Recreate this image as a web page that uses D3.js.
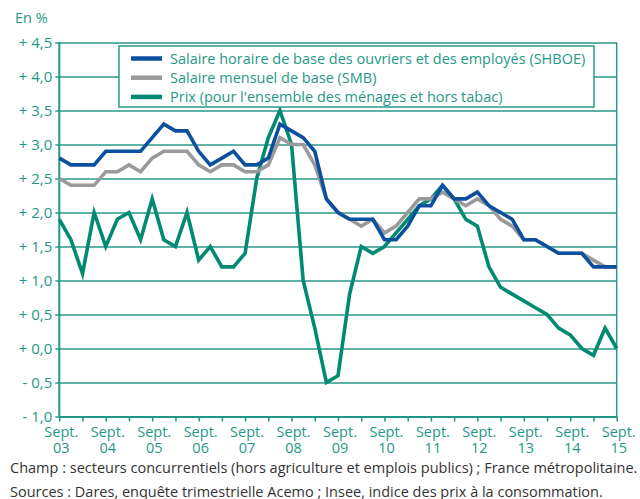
<!DOCTYPE html>
<html>
<head>
<meta charset="utf-8">
<script src="https://cdn.jsdelivr.net/npm/d3@7"></script>
<style>
  body { margin: 0; background: #fff; }
  svg { display: block; font-family: "Open Sans", sans-serif; }
</style>
</head>
<body>
<svg id="graph" width="640" height="499"></svg>
<script>
// Trimestres de sept. 2003 à sept. 2015 (49 points)
const years = ["03", "04", "05", "06", "07", "08", "09", "10", "11", "12", "13", "14", "15"];
const yTicks = [-1, -0.5, 0, 0.5, 1, 1.5, 2, 2.5, 3, 3.5, 4, 4.5];

const shboe = [
  2.8, 2.7, 2.7, 2.7, 2.9, 2.9, 2.9, 2.9, 3.1, 3.3, 3.2, 3.2, 2.9,
  2.7, 2.8, 2.9, 2.7, 2.7, 2.8, 3.3, 3.2, 3.1, 2.9, 2.2, 2.0,
  1.9, 1.9, 1.9, 1.6, 1.6, 1.8, 2.1, 2.1, 2.4, 2.2, 2.2, 2.3,
  2.1, 2.0, 1.9, 1.6, 1.6, 1.5, 1.4, 1.4, 1.4, 1.2, 1.2, 1.2
];
const smb = [
  2.5, 2.4, 2.4, 2.4, 2.6, 2.6, 2.7, 2.6, 2.8, 2.9, 2.9, 2.9, 2.7,
  2.6, 2.7, 2.7, 2.6, 2.6, 2.7, 3.1, 3.0, 3.0, 2.7, 2.2, 2.0,
  1.9, 1.8, 1.9, 1.7, 1.8, 2.0, 2.2, 2.2, 2.3, 2.2, 2.1, 2.2,
  2.1, 1.9, 1.8, 1.6, 1.6, 1.5, 1.4, 1.4, 1.4, 1.3, 1.2, 1.2
];
const prix = [
  1.9, 1.6, 1.1, 2.0, 1.5, 1.9, 2.0, 1.6, 2.2, 1.6, 1.5, 2.0, 1.3,
  1.5, 1.2, 1.2, 1.4, 2.5, 3.1, 3.5, 3.0, 1.0, 0.3, -0.5, -0.4,
  0.8, 1.5, 1.4, 1.5, 1.7, 1.9, 2.1, 2.2, 2.4, 2.2, 1.9, 1.8,
  1.2, 0.9, 0.8, 0.7, 0.6, 0.5, 0.3, 0.2, 0.0, -0.1, 0.3, 0.0
];

const series = [
  { name: "Salaire horaire de base des ouvriers et des employés (SHBOE)", values: shboe, color: "#0b4f9f" },
  { name: "Salaire mensuel de base (SMB)", values: smb, color: "#9a9a9a" },
  { name: "Prix (pour l'ensemble des ménages et hors tabac)", values: prix, color: "#008a72" }
];
// ordre de tracé : prix dessous, puis SMB, puis SHBOE
const drawOrder = [series[2], series[1], series[0]];

const teal = "#1f9986";
const gridColor = "#2a9a88";
const fontSize = "14.5px";

const width = 640, height = 499;
const margin = { top: 42.5, right: 23.3, bottom: 82.5, left: 59.3 };

const svg = d3.select("#graph");

const x = d3.scaleLinear([0, 48], [margin.left, width - margin.right]);
const y = d3.scaleLinear([-1, 4.5], [height - margin.bottom, margin.top]);

const fmt = (v) => (v < 0 ? "- " : "+ ") + d3.format(".1f")(Math.abs(v)).replace(".", ",");

// Grille + axe Y
const gy = svg.append("g")
  .attr("transform", `translate(${margin.left},0)`)
  .call(d3.axisLeft(y).tickValues(yTicks).tickFormat(fmt)
    .tickSize(-(width - margin.left - margin.right)).tickPadding(7));
gy.select(".domain").remove();
gy.selectAll(".tick line").attr("stroke", gridColor).attr("stroke-width", 1.5).attr("x1", -4);
gy.selectAll(".tick text")
  .attr("fill", teal)
  .style("font-size", "15px")
  .style("font-family", "'Open Sans', sans-serif");

// Bord droit
svg.append("line")
  .attr("x1", x(48)).attr("x2", x(48))
  .attr("y1", y(4.5)).attr("y2", y(-1))
  .attr("stroke", gridColor).attr("stroke-width", 1.5);

// Axe X
const gx = svg.append("g")
  .attr("transform", `translate(0,${y(-1)})`)
  .call(d3.axisBottom(x).tickValues(d3.range(0, 49, 2)).tickFormat("").tickSize(5).tickSizeOuter(0));
gx.select(".domain").attr("stroke", teal).attr("stroke-width", 2);
gx.selectAll(".tick line").attr("stroke", teal).attr("stroke-width", 1.5);

const xl = svg.append("g")
  .attr("fill", teal)
  .style("font-size", fontSize)
  .attr("text-anchor", "middle");
xl.selectAll("text.sept")
  .data(years)
  .join("text")
  .attr("class", "sept")
  .attr("x", (d, i) => x(i * 4) + 2)
  .attr("y", y(-1) + 20)
  .text("Sept.");
xl.selectAll("text.year")
  .data(years)
  .join("text")
  .attr("class", "year")
  .attr("x", (d, i) => x(i * 4) + 2)
  .attr("y", y(-1) + 36)
  .text((d) => d);

// Axe Y ligne
svg.append("line")
  .attr("x1", margin.left).attr("x2", margin.left)
  .attr("y1", y(4.5)).attr("y2", y(-1))
  .attr("stroke", teal).attr("stroke-width", 2);

// Courbes
const line = d3.line().x((d, i) => x(i)).y((d) => y(d));
svg.append("g")
  .selectAll("path")
  .data(drawOrder)
  .join("path")
  .attr("d", (d) => line(d.values))
  .attr("fill", "none")
  .attr("stroke", (d) => d.color)
  .attr("stroke-width", 3.6)
  .attr("stroke-linejoin", "miter");

// Légende
const leg = svg.append("g").attr("transform", "translate(119,46)");
leg.append("rect")
  .attr("width", 475).attr("height", 61)
  .attr("fill", "#fff")
  .attr("stroke", gridColor).attr("stroke-width", 1.5);
const items = leg.selectAll("g.item")
  .data(series)
  .join("g")
  .attr("class", "item")
  .attr("transform", (d, i) => `translate(0,${12.5 + i * 19.2})`);
items.append("line")
  .attr("x1", 12).attr("x2", 43)
  .attr("stroke", (d) => d.color).attr("stroke-width", 4.5);
items.append("text")
  .attr("x", 51).attr("dy", "0.35em")
  .attr("fill", teal)
  .style("font-size", fontSize)
  .text((d) => d.name);

// Unité
svg.append("text")
  .attr("x", 15).attr("y", 23)
  .attr("fill", teal)
  .style("font-size", fontSize)
  .text("En %");

// Notes
const notes = [
  "Champ : secteurs concurrentiels (hors agriculture et emplois publics) ; France métropolitaine.",
  "Sources : Dares, enquête trimestrielle Acemo ; Insee, indice des prix à la consommation."
];
svg.append("g")
  .attr("fill", "#333")
  .style("font-size", fontSize)
  .selectAll("text")
  .data(notes)
  .join("text")
  .attr("x", 10)
  .attr("y", (d, i) => 473 + i * 23.5)
  .text((d) => d);
</script>
</body>
</html>
